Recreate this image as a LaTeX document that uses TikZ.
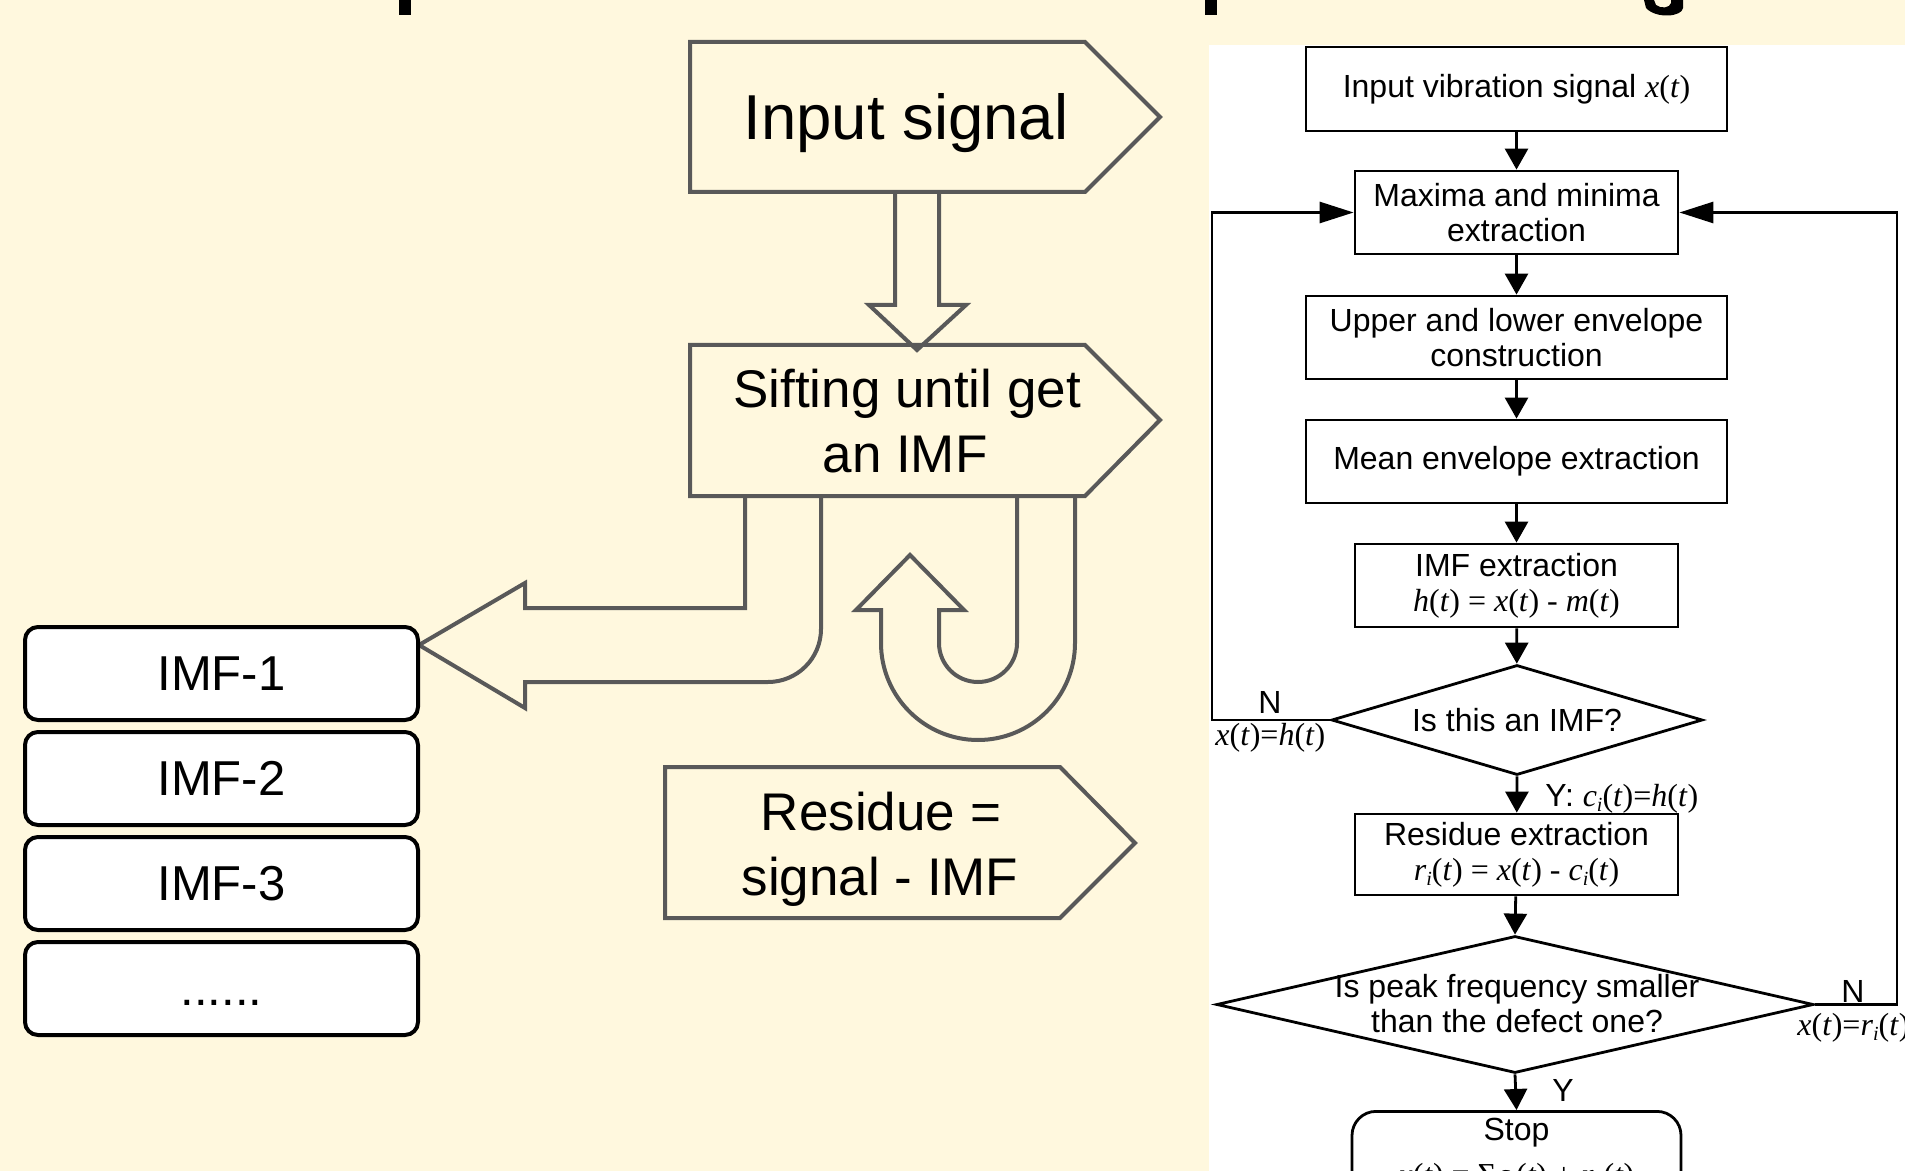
\documentclass[tikz,border=0pt]{standalone}
\usepackage{fontspec}
\setmainfont{Liberation Sans}
\newfontfamily\tms{Liberation Serif}
\usetikzlibrary{arrows.meta,shapes.geometric}
\definecolor{cream}{RGB}{255,248,222}
\definecolor{sgray}{RGB}{89,89,89}
\newcommand\sbi[1]{\raisebox{-0.35ex}{\fontsize{10}{10}\selectfont\itshape #1}}
\begin{document}
\begin{tikzpicture}[x=0.5pt,y=-0.5pt,
  gline/.style={draw=sgray,line width=2pt,line join=miter},
  bigtxt/.style={font=\fontsize{31.75}{38}\selectfont,inner sep=0pt,anchor=base},
  midtxt/.style={font=\fontsize{26.5}{32}\selectfont,inner sep=0pt,anchor=base},
  imfbox/.style={draw=black,line width=2pt,fill=white,rounded corners=6.5pt,minimum width=196.5pt,minimum height=46.5pt,inner sep=0pt,font=\fontsize{24.5}{29}\selectfont},
  rbox/.style={draw=black,line width=1.4pt,fill=white,inner sep=0pt,align=center,font=\fontsize{16}{17.5}\selectfont},
  rdia/.style={draw=black,line width=1.4pt,fill=white,diamond,inner sep=0pt},
  rtxt/.style={inner sep=0pt,align=center,font=\fontsize{16}{17.5}\selectfont},
  rarr/.style={draw=black,line width=1.4pt,-{Triangle[length=10.5pt,width=11.5pt]}},
  sarr/.style={draw=black,line width=1.4pt,-{Triangle[length=17pt,width=10.5pt]}},
]
\useasboundingbox (0,0) rectangle (1905,1171);
\clip (0,0) rectangle (1905,1171);
\fill[cream] (0,0) rectangle (1905,1171);
\fill[white] (1209,45) rectangle (1905,1171);

% title descenders (cut off at the top)
\fill[black] (399,0) rectangle (411,15);
\fill[black] (1205,0) rectangle (1217,15);
\fill[black] (1671,0) -- (1683,0) -- (1683,8) .. controls (1682,17) and (1656,19) .. (1646,8) -- (1644,0) -- (1654,0) -- (1656,5) .. controls (1661,9) and (1670,8) .. (1671,3) -- cycle;

% ---------- left part ----------
\draw[gline] (690,42) -- (1085,42) -- (1160,117) -- (1085,192) -- (690,192) -- cycle;
\node[bigtxt] (inp) at (906,140) {Input signal};

\draw[gline] (690,345) -- (1085,345) -- (1160,420) -- (1085,496) -- (690,496) -- cycle;
\node[midtxt] (sift1) at (907,408) {Sifting until get};
\node[midtxt] (sift2) at (905,473) {an IMF};

\draw[gline] (665,767) -- (1060,767) -- (1135,843) -- (1060,918) -- (665,918) -- cycle;
\node[midtxt] (res1) at (881,830) {Residue =};
\node[midtxt] (res2) at (880,895) {signal - IMF};

% hollow down arrow
\draw[gline] (895,192) -- (895,305) -- (869,305) -- (917,350) -- (966,305) -- (939,305) -- (939,192);

% bent arrow to IMF-1
\draw[gline] (745,496) -- (745,608) -- (525,608) -- (525,583) -- (419,645) -- (525,708) -- (525,682) -- (768,682) arc[start angle=90,end angle=0,radius=53] -- (821,496);

% U-turn arrow
\draw[gline] (1075,496) -- (1075,643) arc[start angle=0,end angle=180,radius=97] -- (881,610) -- (856,610) -- (910,555) -- (964,610) -- (939,610) -- (939,643) arc[start angle=180,end angle=0,radius=39] -- (1017,496);

% IMF boxes
\node[imfbox] (imf1) at (221.5,673.5) {IMF-1};
\node[imfbox] (imf2) at (221.5,778.5) {IMF-2};
\node[imfbox] (imf3) at (221.5,883.5) {IMF-3};
\node[imfbox] (imf4) at (221.5,988.5) {\vphantom{I}......};

% ---------- right flowchart ----------
\node[rbox,minimum width=210.5pt,minimum height=42pt] (b1) at (1516.5,89) {Input vibration signal {\tms\textit{x}(\textit{t})}};
\node[rbox,minimum width=161.5pt,minimum height=41.5pt] (b2) at (1516.5,212.5) {Maxima and minima\\extraction};
\node[rbox,minimum width=210.5pt,minimum height=41.5pt] (b3) at (1516.5,337.5) {Upper and lower envelope\\construction};
\node[rbox,minimum width=210.5pt,minimum height=41.5pt] (b4) at (1516.5,461.5) {Mean envelope extraction};
\node[rbox,minimum width=161.5pt,minimum height=41.5pt] (b5) at (1516.5,585.5) {IMF extraction\\{\tms\textit{h}(\textit{t}) = \textit{x}(\textit{t}) - \textit{m}(\textit{t})}};
\node[rdia,minimum width=185.5pt,minimum height=55pt] (d1) at (1517,720) {};
\node[rtxt] (d1t) at (d1.center) {Is this an IMF?};
\node[rbox,minimum width=161.5pt,minimum height=40.5pt] (b6) at (1516.5,854.5) {Residue extraction\\{\tms\textit{r}\sbi{i}(\textit{t}) = \textit{x}(\textit{t}) - \textit{c}\sbi{i}(\textit{t})}};
\node[rdia,minimum width=298.5pt,minimum height=68.5pt] (d2) at (1515,1004.5) {};
\node[rtxt] (d2t) at (1517,1004) {Is peak frequency smaller\\than the defect one?};
\node[rbox,rounded corners=12pt,minimum width=164.5pt,minimum height=60pt,anchor=north] (stop) at (1516.5,1110) {};
\node[rtxt,anchor=base] (stopt) at (1516.5,1140) {Stop};
\node[rtxt,anchor=base] (stopf) at (1516.5,1185) {{\tms\textit{x}(\textit{t}) = Σ\textit{c}\sbi{i}(\textit{t}) + \textit{r}\sbi{n}(\textit{t})}};

\draw[rarr] (b1) -- (b2);
\draw[rarr] (b2) -- (b3);
\draw[rarr] (b3) -- (b4);
\draw[rarr] (b4) -- (b5);
\draw[rarr] (b5) -- (d1);
\draw[rarr] (d1.south) -- (b6);
\draw[rarr] (b6) -- (d2.north);
\draw[rarr] (d2.south) -- (stop.north);

\coordinate (lc) at (1212,212.5);
\coordinate (rc) at (1897,212.5);
\draw[sarr] (d1.west) -| (lc) -- (b2.west);
\draw[sarr] (d2.east) -| (rc) -- (b2.east);

\node[rtxt] (n1) at (1270,702) {N};
\node[rtxt,anchor=base west] (l1) at (1215,745) {{\tms\textit{x}(\textit{t})=\textit{h}(\textit{t})}};
\node[rtxt,anchor=base west] (l2) at (1545,806) {Y: {\tms\textit{c}\sbi{i}(\textit{t})=\textit{h}(\textit{t})}};
\node[rtxt] (n2) at (1853,991) {N};
\node[rtxt,anchor=base west] (l3) at (1797,1035) {{\tms\textit{x}(\textit{t})=\textit{r}\sbi{i}(\textit{t})}};
\node[rtxt] (y2) at (1563,1090) {Y};
\end{tikzpicture}
\end{document}
